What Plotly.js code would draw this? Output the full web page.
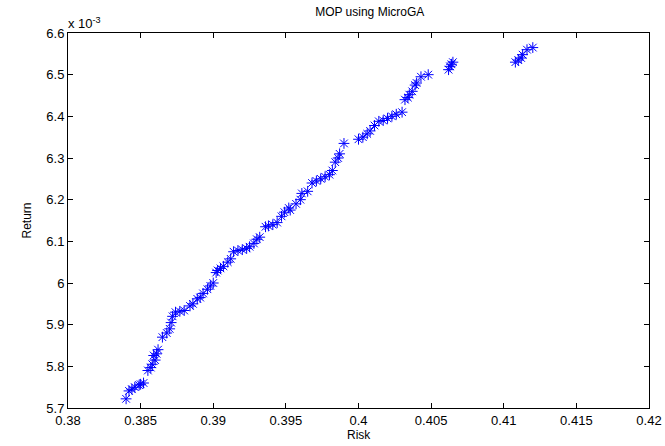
<!DOCTYPE html>
<html>
<head>
<meta charset="utf-8">
<script src="https://cdn.plot.ly/plotly-3.0.1.min.js"></script>
<style>html,body{margin:0;padding:0;background:#fff;}#chart{width:665px;height:446px;}</style>
</head>
<body>
<div id="chart"></div>
<script>
// Risk values (x)
const risk = [
  0.3840,
  0.3842, 0.3844, 0.3846, 0.3849, 0.3852, 0.3850,
  0.3855, 0.3857, 0.3858, 0.3860, 0.3861, 0.3862, 0.3859,
  0.3865, 0.3868, 0.3870, 0.3871, 0.3872, 0.3874, 0.3877, 0.3880,
  0.3884, 0.3886, 0.3889, 0.3891, 0.3893, 0.3896, 0.3898, 0.3900,
  0.3902, 0.3903, 0.3905, 0.3907,
  0.3910, 0.3912, 0.3914, 0.3917, 0.3920, 0.3923, 0.3925, 0.3928, 0.3930, 0.3932,
  0.3936, 0.3938, 0.3941, 0.3944,
  0.3947, 0.3949, 0.3952, 0.3953,
  0.3957, 0.3960, 0.3961, 0.3965, 0.3968, 0.3971, 0.3974, 0.3977, 0.3980, 0.3982,
  0.3984, 0.3986, 0.3987, 0.3990,
  0.4000, 0.4003, 0.4006, 0.4008, 0.4011, 0.4014, 0.4017, 0.4020, 0.4023, 0.4026, 0.4030,
  0.4032, 0.4034, 0.4035, 0.4037, 0.4039, 0.4040, 0.4043, 0.4048,
  0.4062, 0.4063, 0.4064, 0.4065,
  0.4108, 0.4110, 0.4112, 0.4113, 0.4116, 0.4120
];
// Return values (y), in units of 1e-3
const returnE3 = [
  5.722,
  5.741, 5.745, 5.750, 5.755, 5.760, 5.757,
  5.790, 5.797, 5.805, 5.815, 5.830, 5.840, 5.826,
  5.870, 5.880, 5.890, 5.905, 5.920, 5.930, 5.932, 5.934,
  5.945, 5.950, 5.962, 5.965, 5.975, 5.985, 5.993, 6.000,
  6.025, 6.030, 6.035, 6.040,
  6.050, 6.058, 6.075, 6.078, 6.080, 6.083, 6.087, 6.095, 6.105, 6.110,
  6.135, 6.137, 6.140, 6.145,
  6.160, 6.170, 6.180, 6.175,
  6.190, 6.200, 6.215, 6.220, 6.240, 6.245, 6.250, 6.255, 6.260, 6.270,
  6.290, 6.300, 6.310, 6.335,
  6.345, 6.350, 6.358, 6.365, 6.378, 6.388, 6.390, 6.395, 6.400, 6.405, 6.410,
  6.440, 6.445, 6.452, 6.460, 6.475, 6.480, 6.495, 6.500,
  6.512, 6.520, 6.525, 6.530,
  6.530, 6.535, 6.540, 6.548, 6.560, 6.565
];
const xTicks = [0.38, 0.385, 0.39, 0.395, 0.4, 0.405, 0.41, 0.415, 0.42];
const xTickText = ['0.38', '0.385', '0.39', '0.395', '0.4', '0.405', '0.41', '0.415', '0.42'];
const yTicks = [5.7, 5.8, 5.9, 6.0, 6.1, 6.2, 6.3, 6.4, 6.5, 6.6];
const yTickText = ['5.7', '5.8', '5.9', '6', '6.1', '6.2', '6.3', '6.4', '6.5', '6.6'];

const family = 'Liberation Sans, Arial, sans-serif';
const font = {family: family, size: 12, color: '#000'};
const tickFont = {family: family, size: 13, color: '#000'};

const trace = {
  x: risk, y: returnE3, type: 'scatter', mode: 'markers',
  marker: {symbol: 'asterisk-open', size: 9, color: '#0000ff', line: {color: '#0000ff', width: 1}},
  hoverinfo: 'skip'
};

const axisCommon = {
  showgrid: false, zeroline: false, showline: true, linecolor: '#000', linewidth: 1,
  mirror: 'ticks', ticks: 'inside', ticklen: 5, tickcolor: '#000', tickwidth: 1,
  tickfont: tickFont
};

const layout = {
  width: 665, height: 446,
  margin: {l: 68, r: 16, t: 33, b: 38},
  paper_bgcolor: '#fff', plot_bgcolor: '#fff',
  font: font,
  showlegend: false,
  title: {text: 'MOP using MicroGA', font: {family: family, size: 12, color: '#000'}, x: 0.556, xanchor: 'center', y: 0.982, yanchor: 'top'},
  xaxis: Object.assign({}, axisCommon, {
    range: [0.38, 0.42], tickvals: xTicks, ticktext: xTickText
  }),
  yaxis: Object.assign({}, axisCommon, {
    range: [5.7, 6.6], tickvals: yTicks, ticktext: yTickText,
    title: {text: 'Return', font: font, standoff: 12}
  }),
  annotations: [{
    xref: 'paper', yref: 'paper', x: 0, y: 1, xanchor: 'left', yanchor: 'bottom',
    text: 'x 10<sup>-3</sup>', showarrow: false, font: tickFont, xshift: -2, yshift: 0
  }, {
    xref: 'paper', yref: 'paper', x: 0.5, y: 0, xanchor: 'center', yanchor: 'top',
    text: 'Risk', showarrow: false, font: font, yshift: -18
  }]
};

Plotly.newPlot('chart', [trace], layout, {displayModeBar: false, staticPlot: true});
</script>
</body>
</html>
